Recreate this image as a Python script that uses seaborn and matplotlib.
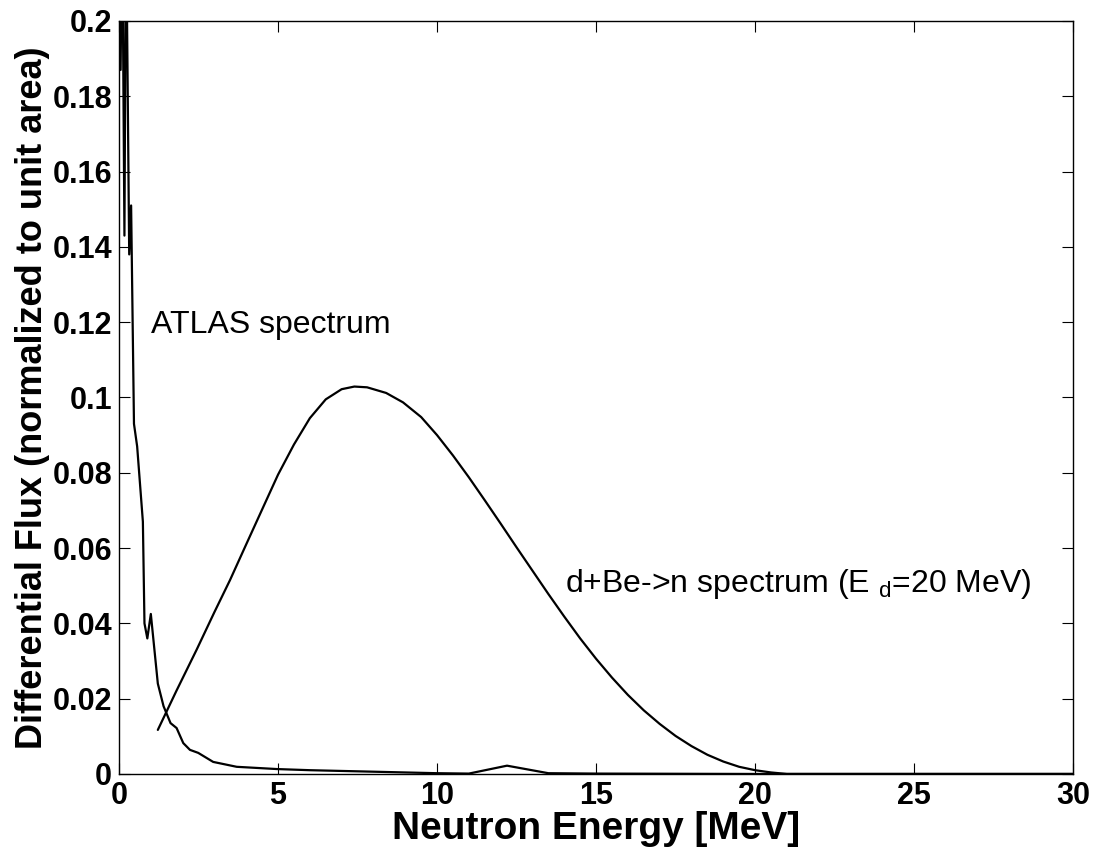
import pandas as pd
import matplotlib
matplotlib.use("Agg")
import matplotlib.pyplot as plt
import seaborn as sns

# ATLAS spectrum
atlas_energy = [0.05, 0.10, 0.17, 0.22, 0.32, 0.38, 0.47, 0.57, 0.75, 0.80, 0.89, 1.00,
                1.22, 1.40, 1.62, 1.81, 2.02, 2.23, 2.49, 2.96, 3.70, 4.97, 6.0, 8.0,
                10.0, 11.0, 12.2, 13.5, 15.0, 20.0, 30.0]
atlas_flux = [0.187, 0.23, 0.143, 0.23, 0.138, 0.151, 0.093, 0.087, 0.067, 0.040, 0.036, 0.0425,
              0.024, 0.018, 0.0135, 0.0122, 0.0082, 0.0064, 0.0056, 0.0032, 0.0019, 0.0013, 0.0010, 0.0006,
              0.0002, 0.0001, 0.0022, 0.0002, 0.0001, 0.0, 0.0]

# d+Be->n spectrum (Ed = 20 MeV)
dbe_energy = [1.22, 1.8, 2.44, 3.0, 3.49, 4.0, 4.54, 5.0, 5.5, 6.0, 6.5, 7.0, 7.4, 7.8, 8.4,
              8.93, 9.5, 10.0, 10.5, 11.0, 11.5, 12.0, 12.5, 13.0, 13.5, 14.0, 14.5, 15.0,
              15.5, 16.0, 16.5, 17.0, 17.5, 18.0, 18.5, 19.0, 19.5, 20.0, 20.5, 21.0, 30.0]
dbe_flux = [0.0117, 0.022, 0.033, 0.043, 0.0515, 0.061, 0.071, 0.0795, 0.0875, 0.0945, 0.0995, 0.1022,
            0.1029, 0.1027, 0.1012, 0.0987, 0.0948, 0.0900, 0.0846, 0.0788, 0.0727, 0.0665, 0.0602,
            0.0540, 0.0478, 0.0418, 0.0360, 0.0306, 0.0256, 0.0210, 0.0169, 0.0133, 0.0101, 0.0074,
            0.0051, 0.0033, 0.0019, 0.0010, 0.0004, 0.0, 0.0]

x_ticks = [0, 5, 10, 15, 20, 25, 30]
y_ticks = [0, 0.02, 0.04, 0.06, 0.08, 0.1, 0.12, 0.14, 0.16, 0.18, 0.2]
y_tick_labels = ["0", "0.02", "0.04", "0.06", "0.08", "0.1", "0.12", "0.14", "0.16", "0.18", "0.2"]

df_atlas = pd.DataFrame({"energy": atlas_energy, "flux": atlas_flux})
df_dbe = pd.DataFrame({"energy": dbe_energy, "flux": dbe_flux})

sns.set_style("ticks")
plt.rcParams['font.family'] = ['Liberation Sans', 'DejaVu Sans']
plt.rcParams['mathtext.fontset'] = 'custom'
plt.rcParams['mathtext.rm'] = 'Liberation Sans'
plt.rcParams['text.color'] = 'black'
plt.rcParams['axes.labelcolor'] = 'black'
plt.rcParams['xtick.color'] = 'black'
plt.rcParams['ytick.color'] = 'black'
plt.rcParams['axes.edgecolor'] = 'black'

fig = plt.figure(figsize=(10.95, 8.57), dpi=100)
ax = fig.add_axes([0.1087, 0.0969, 0.8713, 0.8786])

sns.lineplot(x="energy", y="flux", data=df_atlas, ax=ax, color="black", linewidth=1.6, sort=False)
sns.lineplot(x="energy", y="flux", data=df_dbe, ax=ax, color="black", linewidth=1.6, sort=False)

ax.set_xlim(0, 30)
ax.set_ylim(0, 0.2)
ax.set_xticks(x_ticks)
ax.set_xticklabels([str(t) for t in x_ticks])
ax.set_yticks(y_ticks)
ax.set_yticklabels(y_tick_labels)
ax.tick_params(direction="in", top=True, right=True, length=8, width=0.8, pad=5)
for lab in ax.get_xticklabels() + ax.get_yticklabels():
    lab.set_fontsize(22)
    lab.set_fontweight("bold")
for s in ax.spines.values():
    s.set_linewidth(1.0)

ax.set_xlabel("Neutron Energy [MeV]", fontsize=28, fontweight="bold", labelpad=0)
ax.set_ylabel("Differential Flux (normalized to unit area)", fontsize=26, fontweight="bold",
              labelpad=2)

ax.text(1.0, 0.117, "ATLAS spectrum", fontsize=23)
ax.text(14.03, 0.0484, "d+Be->n spectrum (E $_\\mathregular{d}$=20 MeV)", fontsize=23)

fig.savefig("out.png", dpi=100)
